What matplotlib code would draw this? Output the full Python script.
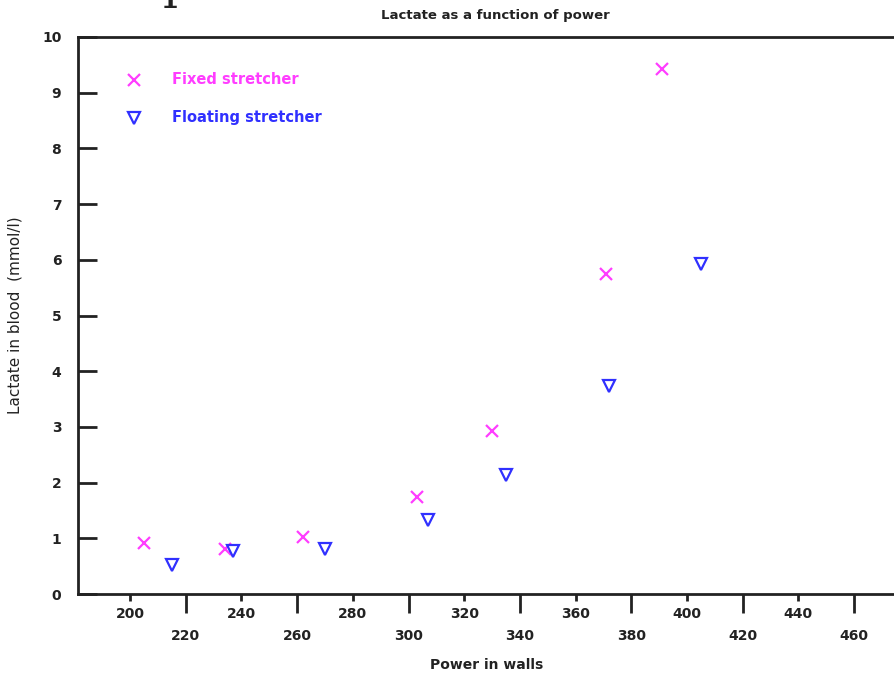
import matplotlib.pyplot as plt
from matplotlib.ticker import FixedLocator

fixed_power = [205, 234, 262, 303, 330, 371, 391]
fixed_lactate = [0.92, 0.81, 1.02, 1.74, 2.93, 5.74, 9.43]
floating_power = [215, 237, 270, 307, 335, 372, 405]
floating_lactate = [0.52, 0.77, 0.81, 1.33, 2.14, 3.73, 5.92]

upper_ticks = [200, 240, 280, 320, 360, 400, 440]
lower_ticks = [220, 260, 300, 340, 380, 420, 460]
y_ticks = list(range(0, 11))

magenta = "#ff3dff"
blue = "#3030ff"
ink = "#222222"

plt.rcParams["font.family"] = "DejaVu Sans"
fig = plt.figure(figsize=(8.95, 6.74), dpi=100)
ax = fig.add_axes([78 / 895, 1 - 594 / 674, 1 - 78 / 895, (594 - 37) / 674])

ax.plot(fixed_power, fixed_lactate, linestyle="none", marker="x", markersize=9,
        markeredgewidth=1.6, color=magenta)
ax.plot(floating_power, floating_lactate, linestyle="none", marker="v", markersize=8,
        markerfacecolor="none", markeredgewidth=1.6, markeredgecolor=blue)

ax.set_xlim(181.3, 474.7)
ax.set_ylim(0, 10)

for side in ["left", "bottom", "top"]:
    ax.spines[side].set_linewidth(2)
    ax.spines[side].set_color(ink)
ax.spines["right"].set_visible(False)

ax.xaxis.set_major_locator(FixedLocator(upper_ticks))
ax.xaxis.set_minor_locator(FixedLocator(lower_ticks))
ax.set_xticklabels([str(t) for t in upper_ticks], fontweight="bold")
ax.set_xticklabels([str(t) for t in lower_ticks], minor=True, fontweight="bold")
ax.tick_params(axis="x", which="major", direction="out", length=5, width=2, color=ink,
               labelsize=10, pad=4, labelcolor=ink)
ax.tick_params(axis="x", which="minor", direction="out", length=14, width=2, color=ink,
               labelsize=10, pad=11, labelcolor=ink)
ax.set_yticks(y_ticks)
ax.set_yticklabels([str(t) for t in y_ticks], fontweight="bold")
ax.tick_params(axis="y", direction="in", length=14, width=2, color=ink,
               labelsize=10, pad=12, labelcolor=ink)

ax.set_xlabel("Power in walls", fontsize=10, fontweight="bold", color=ink, labelpad=11)
ax.set_ylabel("Lactate in blood  (mmol/l)", fontsize=11, color=ink, labelpad=14)
fig.text(495 / 895, 1 - 16 / 674, "Lactate as a function of power", ha="center",
         va="center", fontsize=9.5, fontweight="bold", color=ink)
fig.text(178 / 895, 1 + 2 / 674, "p", ha="center", va="baseline", fontsize=34,
         family="DejaVu Serif", color=ink)

# legend drawn by hand to match the original layout
ax.plot([0.068], [0.923], transform=ax.transAxes, marker="x", markersize=9,
        markeredgewidth=1.6, color=magenta, linestyle="none")
ax.text(0.115, 0.923, "Fixed stretcher", transform=ax.transAxes, color=magenta,
        fontsize=10.5, fontweight="bold", va="center")
ax.plot([0.068], [0.855], transform=ax.transAxes, marker="v", markersize=8,
        markerfacecolor="none", markeredgewidth=1.6, markeredgecolor=blue, linestyle="none")
ax.text(0.115, 0.855, "Floating stretcher", transform=ax.transAxes, color=blue,
        fontsize=10.5, fontweight="bold", va="center")

fig.savefig("out.png", dpi=100)
